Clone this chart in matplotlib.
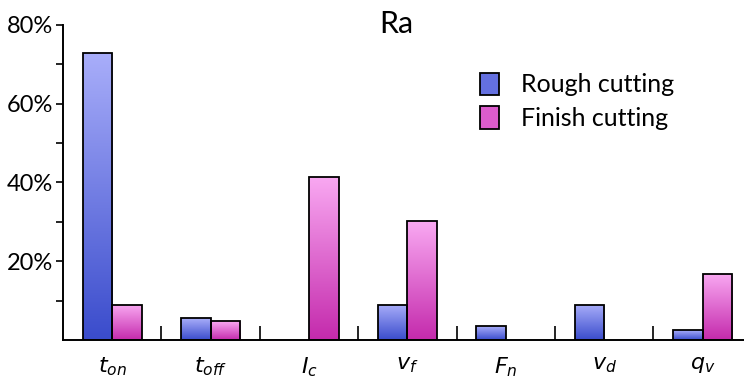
import numpy as np
import matplotlib
matplotlib.use("Agg")
import matplotlib.pyplot as plt
from matplotlib.colors import LinearSegmentedColormap
from matplotlib.patches import Patch
from matplotlib.ticker import FixedLocator, FuncFormatter

params = ["$t_{on}$", "$t_{off}$", "$I_c$", "$v_f$", "$F_n$", "$v_d$", "$q_v$"]
rough = [73.0, 5.5, 0.0, 9.0, 3.5, 9.0, 2.5]
finish = [9.0, 4.7, 41.4, 30.2, 0.0, 0.0, 16.8]

plt.rcParams['font.family'] = ['Lato', 'DejaVu Sans']
plt.rcParams['mathtext.fontset'] = 'dejavusans'

fig = plt.figure(figsize=(7.44, 3.78), dpi=100)
ax = fig.add_axes([63/744, 1 - 340/378, 1 - 63/744, (340 - 25)/378])

blue_cm = LinearSegmentedColormap.from_list("b", ["#3a4ccc", "#a9aefa"])
pink_cm = LinearSegmentedColormap.from_list("p", ["#c42aac", "#f9a9f2"])

x = np.arange(len(params))
w = 0.3
grad = np.linspace(0, 1, 256).reshape(-1, 1)


def gradient_bars(xs, vals, cmap):
    bars = ax.bar(xs, vals, width=w, facecolor="none", edgecolor="black",
                  linewidth=1.3, zorder=3)
    for b, v in zip(bars, vals):
        if v <= 0:
            b.set_visible(False)
            continue
        x0 = b.get_x()
        im = ax.imshow(grad, cmap=cmap, origin="lower", aspect="auto",
                       extent=[x0, x0 + w, 0, v], zorder=2)
        im.set_clip_path(b)
    return bars


gradient_bars(x - w/2, rough, blue_cm)
gradient_bars(x + w/2, finish, pink_cm)

ax.set_xlim(-0.5, 6.42)
ax.set_ylim(0, 80)

for s in ["top", "right"]:
    ax.spines[s].set_visible(False)
ax.spines["left"].set_linewidth(1.4)
ax.spines["bottom"].set_linewidth(1.4)

ax.yaxis.set_major_locator(FixedLocator([20, 40, 60, 80]))
ax.yaxis.set_minor_locator(FixedLocator([10, 30, 50, 70]))
ax.yaxis.set_major_formatter(FuncFormatter(lambda v, p: f"{v:.0f}%"))
ax.tick_params(axis="y", which="both", direction="out", length=5, width=1.2,
               labelsize=17, pad=2)

ax.set_xticks(x)
ax.set_xticklabels(params, fontsize=16)
ax.xaxis.set_minor_locator(FixedLocator(x[:-1] + 0.5))
ax.tick_params(axis="x", which="major", length=0, pad=11)
ax.tick_params(axis="x", which="minor", direction="in", length=10, width=1.2)

ax.text(0.489, 1.003, "Ra", transform=ax.transAxes, fontsize=22,
        ha="center", va="center")

handles = [Patch(facecolor="#6470e0", edgecolor="black", linewidth=1.3),
           Patch(facecolor="#dc5ccc", edgecolor="black", linewidth=1.3)]
ax.legend(handles, ["Rough cutting", "Finish cutting"], loc="upper left",
          bbox_to_anchor=(0.612, 0.849), frameon=False, fontsize=18,
          borderpad=0, borderaxespad=0,
          handlelength=0.75, handleheight=1.0, handletextpad=0.9, labelspacing=0.4)

fig.savefig("out.png", dpi=100)
